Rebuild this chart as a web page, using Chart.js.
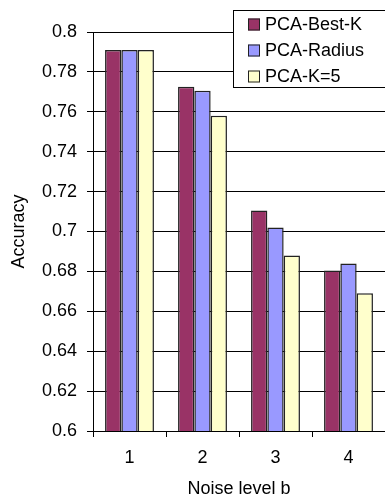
<!DOCTYPE html>
<html>
<head>
<meta charset="utf-8">
<script src="https://cdn.jsdelivr.net/npm/chart.js@4.4.1/dist/chart.umd.min.js"></script>
<style>
  html, body { margin: 0; padding: 0; background: #fff; }
  #wrap { width: 385px; height: 500px; position: relative; }
</style>
</head>
<body>
<div id="wrap"><canvas id="c"></canvas></div>
<script>
// Noise levels on the x axis
const noiseLevels = ['1', '2', '3', '4'];

// Accuracy for each method per noise level
const pcaBestK  = [0.791, 0.7725, 0.7105, 0.6805];
const pcaRadius = [0.791, 0.7705, 0.702, 0.684];
const pcaK5     = [0.791, 0.758, 0.688, 0.669];

const seriesNames = ['PCA-Best-K', 'PCA-Radius', 'PCA-K=5'];

// Y axis range and step
const yMin = 0.6, yMax = 0.8, yStep = 0.02;

const FONT = 'Liberation Sans, Arial, sans-serif';
const EDGE = '#222';

// Boxed legend drawn over the top-right corner of the plot
const boxLegend = {
  id: 'boxLegend',
  afterDraw(chart) {
    const ctx = chart.ctx;
    const x0 = 233.5, y0 = 10.5, w = 160, h = 77;
    ctx.save();
    ctx.fillStyle = '#fff';
    ctx.fillRect(x0, y0, w, h);
    ctx.strokeStyle = '#000';
    ctx.lineWidth = 1;
    ctx.strokeRect(x0, y0, w, h);
    ctx.font = '18px ' + FONT;
    ctx.textBaseline = 'middle';
    chart.data.datasets.forEach((ds, i) => {
      const cy = 24.5 + i * 26;
      ctx.fillStyle = ds.backgroundColor;
      ctx.fillRect(248, cy - 6, 12, 12);
      ctx.strokeStyle = EDGE;
      ctx.lineWidth = 1;
      ctx.strokeRect(248.5, cy - 5.5, 11, 11);
      ctx.fillStyle = '#000';
      ctx.fillText(ds.label, 265, cy + 1);
    });
    ctx.restore();
  }
};

new Chart(document.getElementById('c'), {
  type: 'bar',
  data: {
    labels: noiseLevels,
    datasets: [
      { label: seriesNames[0], data: pcaBestK,  backgroundColor: '#993366' },
      { label: seriesNames[1], data: pcaRadius, backgroundColor: '#9999FF' },
      { label: seriesNames[2], data: pcaK5,     backgroundColor: '#FFFFCC' }
    ]
  },
  options: {
    responsive: true,
    maintainAspectRatio: false,
    animation: false,
    layout: { padding: { top: 32, right: 0, left: 0, bottom: 0 } },
    datasets: {
      bar: {
        categoryPercentage: 0.67,
        barPercentage: 1.0,
        borderColor: EDGE,
        borderWidth: 1.5,
        borderSkipped: false
      }
    },
    plugins: {
      legend: { display: false },
      tooltip: { enabled: false }
    },
    scales: {
      x: {
        grid: {
          offset: true,
          drawOnChartArea: false,
          drawTicks: true,
          tickLength: 6,
          color: '#000'
        },
        border: { color: '#000', width: 1 },
        ticks: {
          color: '#000',
          font: { family: FONT, size: 18 },
          padding: 10
        },
        title: {
          display: true,
          text: 'Noise level b',
          color: '#000',
          font: { family: FONT, size: 18 },
          padding: { top: 2, bottom: 0 }
        },
        afterFit(scale) { scale.height = 69; }
      },
      y: {
        min: yMin,
        max: yMax,
        grid: {
          color: '#000',
          lineWidth: 1,
          tickLength: 6,
          drawTicks: true
        },
        border: { color: '#000', width: 1 },
        ticks: {
          stepSize: yStep,
          color: '#000',
          font: { family: FONT, size: 18 },
          padding: 10,
          callback: (v) => String(Number(v.toFixed(2)))
        },
        title: {
          display: true,
          text: 'Accuracy',
          color: '#000',
          font: { family: FONT, size: 18 },
          padding: { top: 8, bottom: 4 }
        },
        afterFit(scale) { scale.width = 93; }
      }
    }
  },
  plugins: [boxLegend]
});
</script>
</body>
</html>
